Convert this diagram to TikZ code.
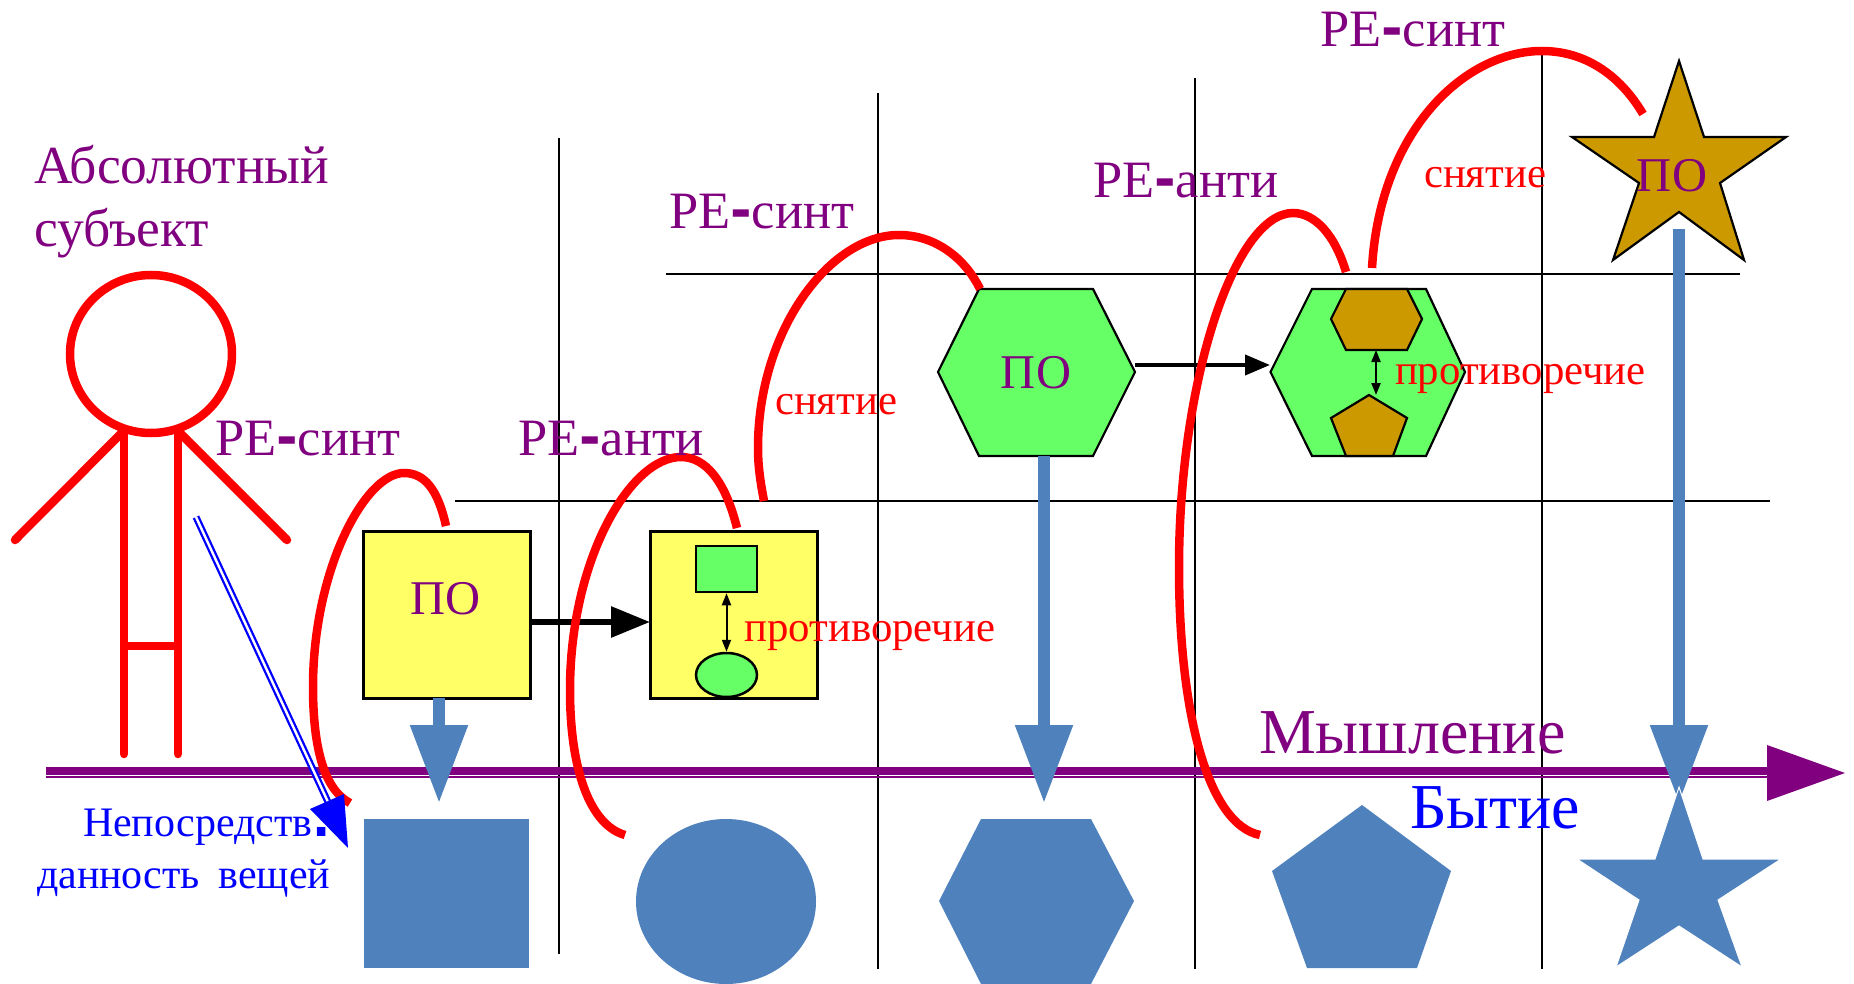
\documentclass[tikz,border=0pt]{standalone}
\usepackage{fontspec}
\setmainfont{Liberation Serif}
\newfontfamily\blockfont[Scale=1]{DejaVu Sans Bold}
\usetikzlibrary{arrows.meta,shapes.geometric}
\definecolor{pur}{HTML}{800080}
\definecolor{steel}{HTML}{4F81BD}
\definecolor{yel}{HTML}{FFFF66}
\definecolor{grn}{HTML}{66FF66}
\definecolor{gold}{HTML}{CC9900}
\newcommand{\fs}[1]{\fontsize{#1pt}{#1pt}\selectfont}
\newcommand{\blk}{{\blockfont\fs{52}-}}
\tikzset{
  x=1pt,y=-1pt,
  txt/.style={anchor=base west,inner sep=0pt,outer sep=0pt},
  re/.style={txt,text=pur,font=\fs{52.5}},
  red txt/.style={txt,text=red,font=\fs{42.8}},
  po/.style={inner sep=0pt,text=pur,font=\fs{48.5}},
  grid line/.style={line width=2.2pt,black},
  red line/.style={line width=8.5pt,red},
  body line/.style={line width=8.5pt,red,line cap=round},
  outlined/.style={draw=black,line width=2.2pt},
  square/.style={draw=black,line width=3pt,fill=yel,minimum width=167pt,minimum height=167pt,inner sep=0pt},
  steel arrow/.style={line width=12pt,steel,-{Triangle[length=78pt,width=55pt]}},
  small both/.style={line width=2pt,black,{Triangle[length=12pt,width=9pt]}-{Triangle[length=12pt,width=9pt]}},
}
\begin{document}
\begin{tikzpicture}
\useasboundingbox (0,0) rectangle (1854,984);
% grid
\draw[grid line] (559,138) -- (559,954);
\draw[grid line] (878,93) -- (878,969);
\draw[grid line] (1195,78) -- (1195,969);
\draw[grid line] (1542,48) -- (1542,969);
\draw[grid line] (666,274) -- (1740,274);
\draw[grid line] (455,501) -- (1770,501);
% base shapes
\fill[steel] (364,819) rectangle (529,968);
\fill[steel] (726,901.5) ellipse [x radius=90,y radius=82.5];
\fill[steel] (939,901)--(981,819)--(1091,819)--(1134,901)--(1091,984)--(981,984)--cycle;
\fill[steel] (1362,805)--(1451,871)--(1417,968)--(1307,968)--(1272,871)--cycle;
% purple axis
\coordinate (axA) at (46,771);
\coordinate (axB) at (1770,771);
\coordinate (axC) at (46,777);
\coordinate (axD) at (1770,777);
\draw[pur,line width=8pt] (axA) -- (axB);
\draw[pur,line width=2.5pt] (axC) -- (axD);
\fill[pur] (1767,745)--(1845,773)--(1767,801)--cycle;
% upper shapes
\node[square] (sq1) at (446.5,614.5) {};
\node[square] (sq2) at (734,614.5) {};
\node[draw=black,line width=2.5pt,fill=grn,minimum width=61pt,minimum height=46pt,inner sep=0pt] (insq) at (726.5,569) {};
\node[draw=black,line width=2.5pt,fill=grn,ellipse,minimum width=61pt,minimum height=44pt,inner sep=0pt] (inel) at (726.5,675) {};
\draw[outlined,fill=grn] (938,372)--(979,289)--(1093,289)--(1135,372)--(1093,456)--(979,456)--cycle;
\draw[outlined,fill=grn] (1270.5,372)--(1312,289)--(1426,289)--(1465,372)--(1426,456)--(1312,456)--cycle;
\draw[outlined,fill=gold] (1331,319)--(1346,289)--(1407,289)--(1422,319)--(1407,350)--(1346,350)--cycle;
\draw[outlined,fill=gold] (1369,395)--(1407,418)--(1393,456)--(1346,456)--(1331,418)--cycle;
\draw[outlined,fill=gold] (1679,61)--(1704,137)--(1786,137)--(1720,183)--(1744,260)--(1679,212)--(1613,260)--(1639,183)--(1572,137)--(1654,137)--cycle;
% connectors
\coordinate (b1) at (530,622); \coordinate (b1e) at (650,622);
\coordinate (b2) at (1135,365); \coordinate (b2e) at (1270,365);
\draw[black,line width=6pt,-{Triangle[length=39pt,width=30pt]}] (b1) -- (b1e);
\draw[black,line width=4pt,-{Triangle[length=25pt,width=20pt]}] (b2) -- (b2e);
\draw[small both] (insq.south) -- (inel.north);
\coordinate (h1t) at (1376,350); \coordinate (h1b) at (1376,395);
\draw[small both] (h1t) -- (h1b);
\coordinate (s1) at (439,698); \coordinate (s1e) at (439,803);
\coordinate (s2) at (1044,456); \coordinate (s2e) at (1044,803);
\coordinate (s3) at (1679,229); \coordinate (s3e) at (1679,803);
\draw[steel arrow] (s1) -- (s1e);
\draw[steel arrow] (s2) -- (s2e);
\draw[steel arrow] (s3) -- (s3e);
% blue star, with the thin pale seam where it meets the arrow
\filldraw[fill=steel,draw=white,line width=1pt] (1679,787)--(1703,859)--(1781,859)--(1718,900)--(1742,967)--(1679,926)--(1616,967)--(1639,900)--(1577,859)--(1655,859)--cycle;
% red arcs
\draw[red line] (446,526) .. controls (438,490) and (425,473) .. (404,473) .. controls (365,473) and (313,570) .. (313,687) .. controls (313,750) and (325,790) .. (350,803);
\draw[red line] (737,528) .. controls (725,480) and (705,457) .. (681,457) .. controls (630,457) and (570,560) .. (570,690) .. controls (570,770) and (590,825) .. (625,835);
\draw[red line] (764,501) .. controls (760,480) and (758,465) .. (758,448) .. controls (758,330) and (830,235) .. (899,235) .. controls (935,235) and (965,258) .. (980,289);
\draw[red line] (1346,272) .. controls (1335,235) and (1315,213) .. (1293,213) .. controls (1235,213) and (1179,380) .. (1179,567) .. controls (1179,720) and (1210,825) .. (1260,835);
\draw[red line] (1372,268) .. controls (1380,130) and (1465,51) .. (1542,51) .. controls (1585,51) and (1620,75) .. (1643,114);
% figure
\draw[red,line width=8.5pt] (151,354) ellipse [x radius=81,y radius=79];
\draw[body line] (122.6,432) -- (15,540);
\draw[body line] (179,432) -- (287,540);
\draw[body line] (124,432) -- (124,754);
\draw[body line] (178,432) -- (178,754);
\draw[red,line width=8pt] (124,646) -- (178,646);
% double blue arrow
\coordinate (dbA) at (196,517); \coordinate (dbB) at (328,802);
\draw[blue,line width=7pt] (dbA) -- (dbB);
\draw[white,line width=2.4pt] (dbA) -- (dbB);
\fill[blue] (310,809)--(344,794)--(348,848)--cycle;
% text
\node[txt,text=pur,font=\fs{53.5}] (abs1) at (34,184) {Абсолютный};
\node[txt,text=pur,font=\fs{53.5}] (abs2) at (34,247) {субъект};
\node[re] (re1) at (215,455) {РЕ\blk синт};
\node[re] (re2) at (518,455) {РЕ\blk анти};
\node[re] (re3) at (669,229) {РЕ\blk синт};
\node[re] (re4) at (1093,198) {РЕ\blk анти};
\node[re] (re5) at (1320,47) {РЕ\blk синт};
\node[red txt] (sn1) at (775,414) {снятие};
\node[red txt] (sn2) at (1424,188) {снятие};
\node[red txt] (pr1) at (744.5,641) {противоречие};
\node[red txt] (pr2) at (1395,384) {противоречие};
\node[po] (po1) at (446,599) {ПО};
\node[po] (po2) at (1036,373) {ПО};
\node[po] (po3) at (1672,176) {ПО};
\node[txt,text=pur,font=\fs{64}] (myshl) at (1259,753) {Мышление};
\node[txt,text=blue,font=\fs{64}] (byt) at (1410,828) {Бытие};
\node[txt,text=blue,font=\fs{42}] (nep1) at (83,836) {Непосредств{\blockfont\fs{48}.}};
\node[txt,text=blue,font=\fs{42}] (nep2) at (37,888) {данность\hspace{8pt} вещей};
\end{tikzpicture}
\end{document}
